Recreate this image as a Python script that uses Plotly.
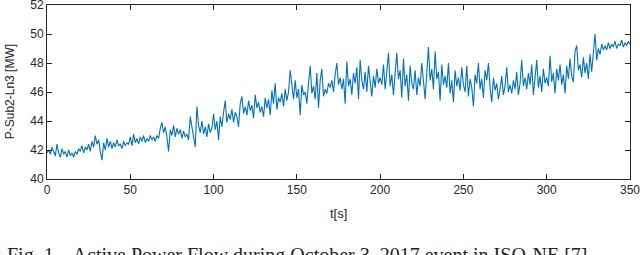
import plotly.graph_objects as go

# time axis (seconds) and active power values
t_start = 0
t_step = 1
power_mw = [
    41.8, 42.0, 41.7, 42.2, 41.9, 41.6, 42.4, 41.8, 41.5, 42.1,
    41.7, 41.9, 41.5, 42.0, 41.6, 41.8, 41.5, 41.9, 41.7, 42.1,
    41.9, 42.3, 41.8, 42.2, 42.0, 42.4, 41.9, 42.6, 42.2, 43.0,
    42.4, 42.7, 41.9, 41.3, 42.5, 42.0, 42.8, 42.2, 42.6, 42.1,
    42.5, 42.2, 42.7, 42.3, 42.4, 42.1, 42.6, 42.3, 42.5, 42.4,
    42.9, 42.3, 43.1, 42.5, 42.8, 42.4, 42.9, 42.6, 43.0, 42.5,
    42.8, 42.6, 43.0, 42.7, 42.9, 42.6, 43.0, 42.8, 43.5, 43.9,
    43.2, 43.6, 42.9, 41.9, 43.4, 43.0, 43.7, 42.9, 43.5, 43.1,
    43.4, 42.8, 43.3, 42.9, 43.1, 42.7, 44.3, 43.6, 43.0, 42.2,
    45.0, 43.7, 43.2, 44.0, 43.1, 43.6, 42.9, 43.8, 43.2, 43.5,
    44.5, 43.4, 44.0, 42.7, 44.3, 43.6, 44.6, 45.4, 43.9, 44.5,
    44.1, 44.8, 43.9, 44.6, 44.3, 43.6, 45.2, 45.7, 44.5, 45.0,
    44.4, 45.4, 44.7, 45.1, 44.2, 45.8, 44.9, 45.3, 44.6, 45.0,
    44.3, 45.6, 44.9, 45.5, 44.4, 46.1, 45.2, 46.6, 44.8, 45.6,
    45.3, 45.9, 45.0, 46.2, 45.4, 46.0, 47.5, 46.3, 45.5, 46.8,
    45.6, 46.2, 44.4, 46.5, 45.8, 46.0, 45.2, 46.6, 47.8, 45.9,
    46.4, 45.5, 47.3, 44.9, 46.8, 47.6, 45.7, 46.2, 45.9, 46.6,
    46.3, 46.8, 46.0, 47.2, 48.0, 46.5, 47.0, 46.2, 46.9, 45.2,
    48.1, 46.4, 46.9, 45.8, 47.3, 46.6, 47.7, 45.5, 48.2, 46.8,
    46.2, 47.4, 46.0, 47.8, 46.5, 45.7, 47.1, 46.3, 47.6, 46.6,
    47.0, 46.5, 47.9, 46.2, 47.4, 48.7, 46.4, 47.2, 45.8, 47.6,
    48.7, 46.9, 47.5, 45.6, 48.3, 46.4, 47.2, 45.4, 47.8, 46.6,
    46.2, 47.5, 45.8, 47.0, 46.4, 48.0, 46.6, 45.5, 47.3, 49.1,
    46.8, 47.6, 46.2, 48.8, 46.9, 47.4, 45.4, 47.9, 46.5, 47.1,
    46.3, 48.0, 45.9, 46.8, 45.3, 47.5, 46.4, 47.0, 46.1, 47.7,
    46.5, 46.0, 47.8, 45.7, 46.9, 46.3, 45.0, 47.2, 46.6, 48.0,
    46.2, 46.9, 45.6, 47.5, 46.8, 48.0, 46.3, 45.3, 47.0, 46.1,
    46.6, 45.5, 46.2, 47.1, 45.8, 46.4, 47.7, 46.0, 46.5, 45.9,
    46.8, 46.2, 47.4, 45.8, 46.6, 48.2, 46.4, 47.0, 46.2, 47.3,
    46.5, 47.9, 45.8, 46.9, 48.2, 46.3, 47.1, 46.0, 47.6, 46.6,
    47.0, 46.4, 48.5, 46.7, 47.3, 45.9, 47.6, 46.8, 47.9, 46.5,
    47.2, 45.9, 47.8, 46.9, 48.3, 47.1, 46.7, 48.8, 49.2, 47.5,
    47.9, 47.0, 48.4, 47.3, 48.0, 46.9, 48.6, 47.4, 48.8, 50.0,
    48.2, 49.0, 48.6, 49.3, 48.9, 49.2, 48.9, 49.4, 49.0, 49.3,
    49.1, 49.5, 49.0, 49.3, 49.2, 49.6, 49.1, 49.4, 49.2, 49.5,
    49.3,
]
time_s = [t_start + i * t_step for i in range(len(power_mw))]

x_ticks = [0, 50, 100, 150, 200, 250, 300, 350]
y_ticks = [40, 42, 44, 46, 48, 50, 52]

x_title = "t[s]"
y_title = "P-Sub2-Ln3 [MW]"
caption = "Fig. 1.   Active Power Flow during October 3, 2017 event in ISO-NE [7]."

axis_color = "#262626"
sans = "Liberation Sans, Arial, sans-serif"
tick_font = dict(family=sans, size=12, color=axis_color)

fig = go.Figure()
fig.add_trace(go.Scatter(
    x=time_s, y=power_mw, mode="lines",
    line=dict(color="#0072BD", width=1.1),
    hoverinfo="skip", showlegend=False,
))

common_axis = dict(
    showline=True, linecolor=axis_color, linewidth=1, mirror="ticks",
    ticks="inside", ticklen=5, tickcolor=axis_color, tickwidth=1,
    showgrid=False, zeroline=False, tickfont=tick_font,
    automargin=False, ticklabeloverflow="allow",
)
fig.update_xaxes(range=[0, 350], tickvals=x_ticks, **common_axis)
fig.update_yaxes(range=[40, 52], tickvals=y_ticks, **common_axis)

fig.update_layout(
    width=640, height=255,
    margin=dict(l=47, r=10, t=5, b=76, autoexpand=False),
    paper_bgcolor="white", plot_bgcolor="white",
    annotations=[
        dict(text=x_title, xref="paper", yref="paper", x=0.5, y=-0.2,
             xanchor="center", yanchor="middle", showarrow=False,
             font=dict(family=sans, size=13, color=axis_color)),
        dict(text=y_title, xref="paper", yref="paper", x=-0.063, y=0.5,
             xanchor="center", yanchor="middle", textangle=-90, showarrow=False,
             font=dict(family=sans, size=12, color=axis_color)),
        dict(text=caption, xref="paper", yref="paper", x=-0.072, y=-0.44,
             xanchor="left", yanchor="middle", showarrow=False,
             font=dict(family="Liberation Serif, Times New Roman, serif", size=20, color="#222222")),
    ],
)

fig.write_html(
    "out.html",
    config={"displayModeBar": False},
    post_script="document.body.style.margin='0px';document.body.style.overflow='hidden';",
)
